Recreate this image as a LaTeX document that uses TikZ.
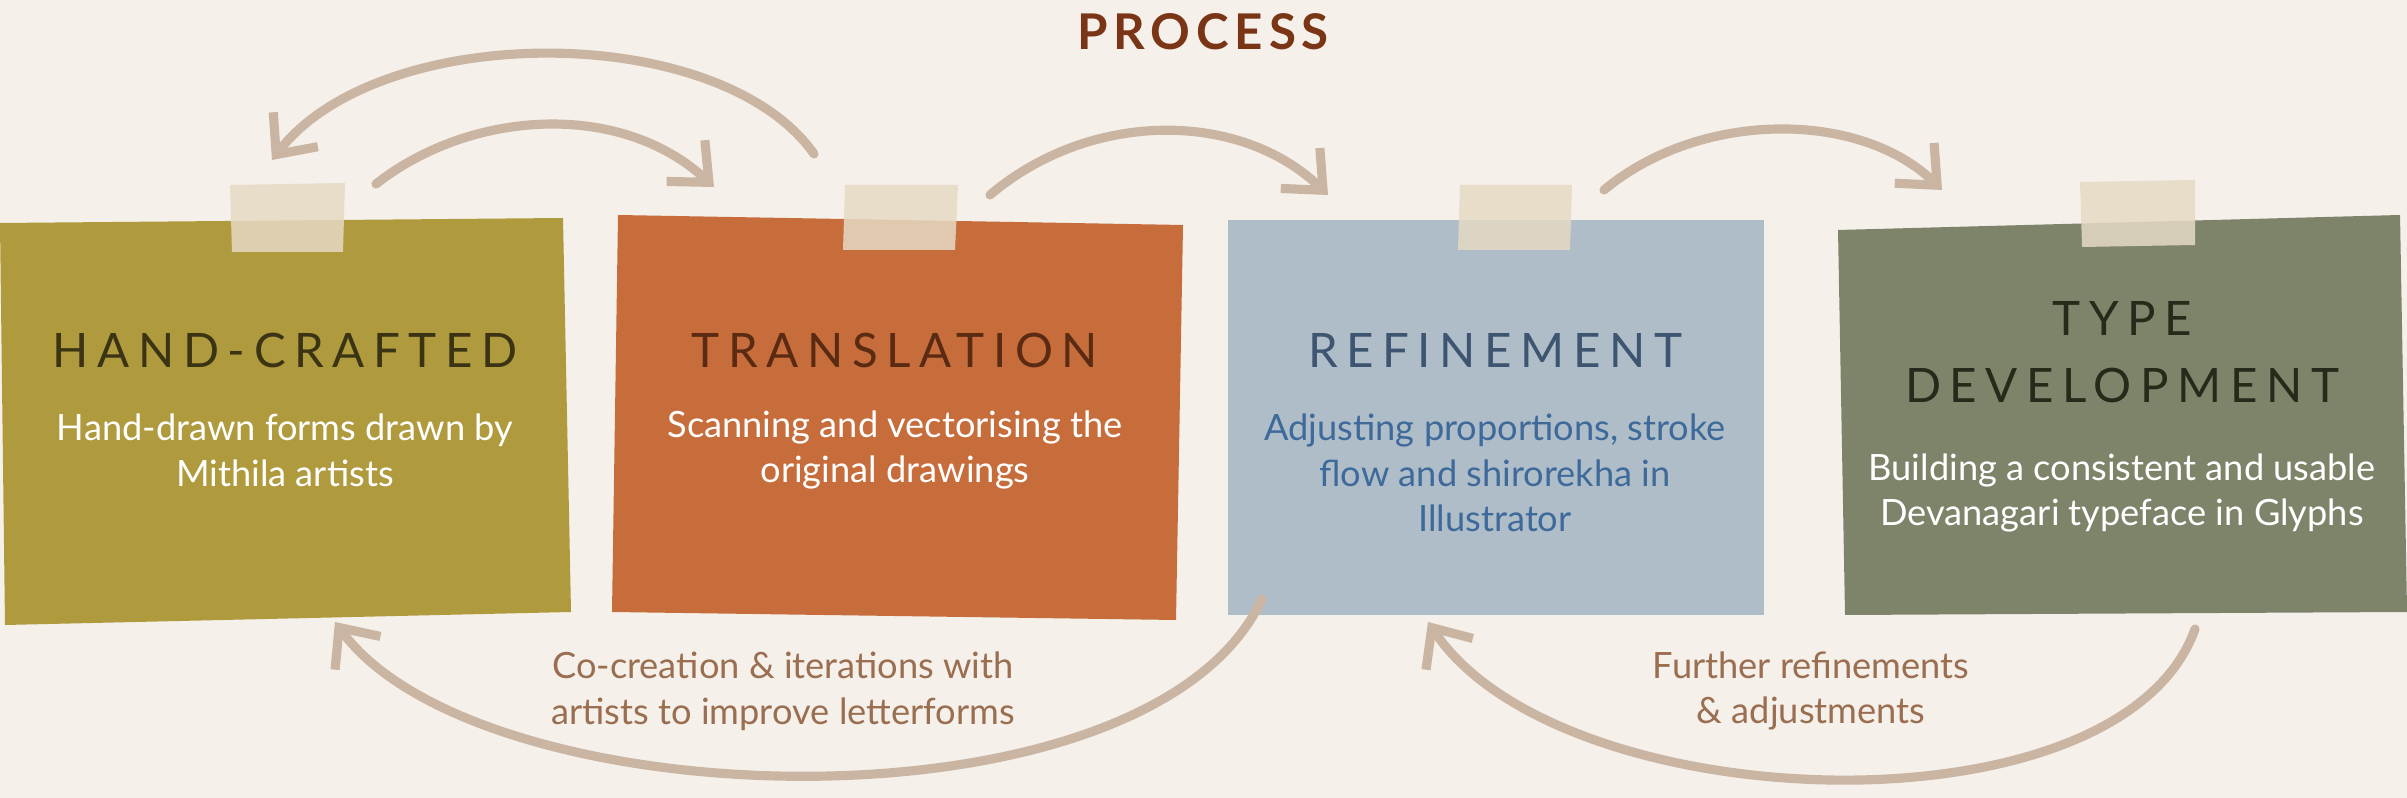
\documentclass[tikz,border=0pt]{standalone}
\usepackage{fontspec}
\setmainfont{Lato}
\usetikzlibrary{arrows.meta}
\definecolor{bg}{HTML}{F5F0EA}
\definecolor{olive}{HTML}{B09A3E}
\definecolor{orng}{HTML}{C76D3B}
\definecolor{bluey}{HTML}{AFBDC8}
\definecolor{sage}{HTML}{7D846A}
\definecolor{tape}{HTML}{E6DAC4}
\definecolor{arr}{HTML}{C9B5A2}
\definecolor{ttl}{HTML}{7A3516}
\definecolor{lbl}{HTML}{9A6E50}
\definecolor{hA}{HTML}{3A3414}
\definecolor{hB}{HTML}{5A2A12}
\definecolor{hC}{HTML}{3D5570}
\definecolor{bC}{HTML}{3D6A9A}
\definecolor{hD}{HTML}{262A1A}
\tikzset{
 x=0.01cm,y=-0.01cm,
 tp/.style={fill=tape,opacity=0.85},
 head/.style={font=\fontsize{13.5}{19}\selectfont\addfontfeatures{LetterSpace=18}, align=center},
 body/.style={font=\fontsize{10.3}{13}\selectfont, align=center},
 flow/.style={draw=arr,line width=2.6pt,line cap=round,-{Straight Barb[length=9pt,width=16pt,line width=2.6pt]}},
 note/.style={font=\fontsize{10.3}{13}\selectfont, text=lbl, align=center}
}
\begin{document}
\begin{tikzpicture}
\fill[bg] (0,0) rectangle (2407,798);
\useasboundingbox (0,0) rectangle (2407,798);
% cards
\fill[olive] (0,223) -- (563,218) -- (571,612) -- (5,625) -- cycle;
\fill[orng] (618,215) -- (1183,225) -- (1176,620) -- (612,612) -- cycle;
\fill[bluey] (1228,220) -- (1764,220) -- (1764,615) -- (1228,615) -- cycle;
\fill[sage] (1838,230) -- (2400,215) -- (2407,612) -- (1845,615) -- cycle;
% tapes
\fill[tp] (230,185) -- (345,183) -- (343,252) -- (232,252) -- cycle;
\fill[tp] (845,185) -- (958,185) -- (955,250) -- (843,250) -- cycle;
\fill[tp] (1460,185) -- (1572,185) -- (1570,250) -- (1458,250) -- cycle;
\fill[tp] (2080,182) -- (2195,180) -- (2195,245) -- (2082,247) -- cycle;
% title
\node[font=\fontsize{14}{16}\selectfont\bfseries\addfontfeatures{LetterSpace=12}, text=ttl] (title) at (1203,32) {PROCESS};
% texts
\node[head,text=hA] (h1) at (285,350) {HAND-CRAFTED};
\node[body,text=white] (b1) at (285,450) {Hand-drawn forms drawn by\\Mithila artists};
\node[head,text=hB] (h2) at (895,350) {TRANSLATION};
\node[body,text=white] (b2) at (895,450) {Scanning and vectorising the\\original drawings};
\node[head,text=hC] (h3) at (1495,350) {REFINEMENT};
\node[body,text=bC] (b3) at (1495,473) {Adjusting proportions, stroke\\flow and shirorekha in\\Illustrator};
\node[head,text=hD] (h4) at (2122,352) {TYPE\\DEVELOPMENT};
\node[body,text=white] (b4) at (2122,493) {Building a consistent and usable\\Devanagari typeface in Glyphs};
% arrow endpoints
\coordinate (a1s) at (814,154); \coordinate (a1e) at (272,160);
\coordinate (a2s) at (376,184); \coordinate (a2e) at (714,187);
\coordinate (a3s) at (990,195); \coordinate (a3e) at (1328,195);
\coordinate (a4s) at (1604,190); \coordinate (a4e) at (1942,190);
\coordinate (a5s) at (1262,599); \coordinate (a5e) at (335,622);
\coordinate (a6s) at (2195,629); \coordinate (a6e) at (1428,622);
\draw[flow] (a1s) .. controls (720,20) and (380,20) .. (a1e);
\draw[flow] (a2s) .. controls (470,110) and (620,100) .. (a2e);
\draw[flow] (a3s) .. controls (1090,110) and (1240,110) .. (a3e);
\draw[flow] (a4s) .. controls (1700,110) and (1860,110) .. (a4e);
\draw[flow] (a5s) .. controls (1150,840) and (480,820) .. (a5e);
\draw[flow] (a6s) .. controls (2120,840) and (1560,820) .. (a6e);
\node[note] (n1) at (783,691) {Co-creation \& iterations with\\artists to improve letterforms};
\node[note] (n2) at (1811,691) {Further refinements\\\& adjustments};
\end{tikzpicture}
\end{document}
